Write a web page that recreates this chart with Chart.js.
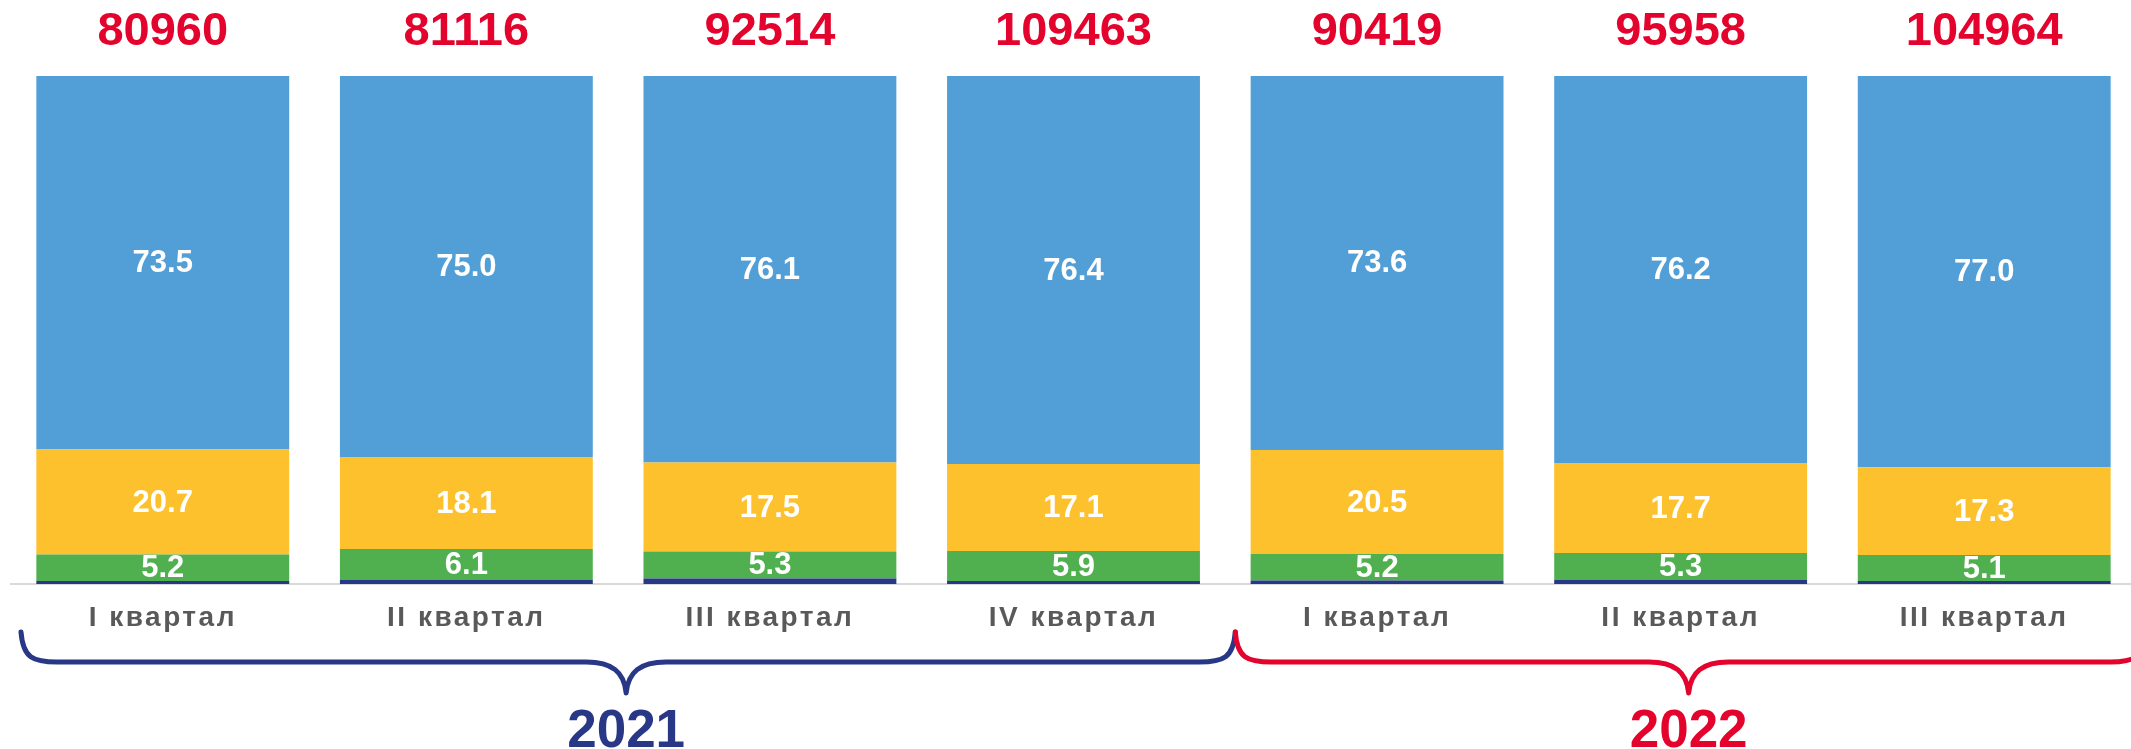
<!DOCTYPE html>
<html>
<head>
<meta charset="utf-8">
<script src="https://cdn.jsdelivr.net/npm/chart.js@4/dist/chart.umd.min.js"></script>
<style>
  html, body { margin: 0; padding: 0; background: #fff; overflow: hidden; }
  #wrap { width: 2150px; height: 749px; }
</style>
</head>
<body>
<div id="wrap"><canvas id="chart" width="2150" height="749"></canvas></div>
<script>
// --- data ---
const quarters = ['I квартал', 'II квартал', 'III квартал', 'IV квартал', 'I квартал', 'II квартал', 'III квартал'];
const totals = [80960, 81116, 92514, 109463, 90419, 95958, 104964];
const shareOther = [0.6, 0.8, 1.1, 0.6, 0.7, 0.8, 0.6];
const shareGreen = [5.2, 6.1, 5.3, 5.9, 5.2, 5.3, 5.1];
const shareYellow = [20.7, 18.1, 17.5, 17.1, 20.5, 17.7, 17.3];
const shareBlue = [73.5, 75.0, 76.1, 76.4, 73.6, 76.2, 77.0];
const years = ['2021', '2022'];
const yearFirst = [0, 4];
const yearLast = [3, 6];

const RED = '#E3032D';
const NAVY = '#283886';
const FONT = '"Liberation Sans", Arial, sans-serif';

// --- plugins ---
const labelsPlugin = {
    id: 'labels',
    beforeDraw(chart) {
        chart.ctx.letterSpacing = '2.5px';
    },
    beforeDatasetsDraw(chart) {
        chart.ctx.letterSpacing = '0px';
    },
    afterDatasetsDraw(chart) {
        const ctx = chart.ctx;
        ctx.save();
        ctx.textAlign = 'center';
        ctx.textBaseline = 'middle';

        // values inside the segments (skip the thin bottom one)
        ctx.fillStyle = '#fff';
        ctx.font = 'bold 31px ' + FONT;
        chart.data.datasets.forEach((ds, di) => {
            if (di === 0) return;
            chart.getDatasetMeta(di).data.forEach((bar, i) => {
                ctx.fillText(ds.data[i].toFixed(1), bar.x, (bar.y + bar.base) / 2 + 1);
            });
        });

        // totals above bars
        ctx.fillStyle = RED;
        ctx.font = 'bold 47px ' + FONT;
        const top = chart.getDatasetMeta(chart.data.datasets.length - 1).data;
        top.forEach((bar, i) => {
            ctx.fillText(String(totals[i]), bar.x, 32);
        });

        // year braces
        const x = chart.scales.x;
        const half = (x.getPixelForValue(1) - x.getPixelForValue(0)) / 2;
        const colors = [NAVY, RED];
        const yTop = 632, yMid = 662, yTip = 693;
        years.forEach((yr, k) => {
            const x0 = x.getPixelForValue(yearFirst[k]) - half + 10;
            const x1 = x.getPixelForValue(yearLast[k]) + half + 10;
            const cx = (x.getPixelForValue(yearFirst[k]) + x.getPixelForValue(yearLast[k])) / 2 + 8;
            ctx.strokeStyle = colors[k];
            ctx.lineWidth = 5;
            ctx.lineCap = 'round';
            ctx.lineJoin = 'round';
            ctx.beginPath();
            ctx.moveTo(x0, yTop);
            ctx.bezierCurveTo(x0 + 2, yMid - 4, x0 + 12, yMid, x0 + 36, yMid);
            ctx.lineTo(cx - 40, yMid);
            ctx.bezierCurveTo(cx - 14, yMid, cx - 2, yMid + 10, cx, yTip);
            ctx.bezierCurveTo(cx + 2, yMid + 10, cx + 14, yMid, cx + 40, yMid);
            ctx.lineTo(x1 - 36, yMid);
            ctx.bezierCurveTo(x1 - 12, yMid, x1 - 2, yMid - 4, x1, yTop);
            ctx.stroke();

            ctx.fillStyle = colors[k];
            ctx.font = 'bold 53px ' + FONT;
            ctx.textBaseline = 'alphabetic';
            ctx.fillText(yr, cx, 747);
            ctx.textBaseline = 'middle';
        });
        ctx.restore();
    }
};

// --- chart ---
const ctx = document.getElementById('chart').getContext('2d');
new Chart(ctx, {
    type: 'bar',
    data: {
        labels: quarters,
        datasets: [
            { label: 'other', data: shareOther, backgroundColor: NAVY },
            { label: 'green', data: shareGreen, backgroundColor: '#50B050' },
            { label: 'yellow', data: shareYellow, backgroundColor: '#FEC12E' },
            { label: 'blue', data: shareBlue, backgroundColor: '#529FD7' }
        ]
    },
    options: {
        responsive: false,
        animation: false,
        devicePixelRatio: 1,
        layout: { padding: { left: 11, right: 14, top: 76, bottom: 115 } },
        datasets: { bar: { barPercentage: 0.833, categoryPercentage: 1, borderWidth: 0 } },
        scales: {
            x: {
                stacked: true,
                grid: { display: false, drawTicks: false },
                border: { display: true, color: '#D9D9D9', width: 2 },
                ticks: {
                    color: '#595959',
                    font: { family: FONT, size: 28, weight: 'bold' },
                    padding: 17,
                    maxRotation: 0,
                    autoSkip: false
                },
                afterFit(scale) { scale.height = 50; }
            },
            y: { stacked: true, display: false, min: 0, max: 100 }
        },
        plugins: {
            legend: { display: false },
            tooltip: { enabled: false }
        }
    },
    plugins: [labelsPlugin]
});
</script>
</body>
</html>
